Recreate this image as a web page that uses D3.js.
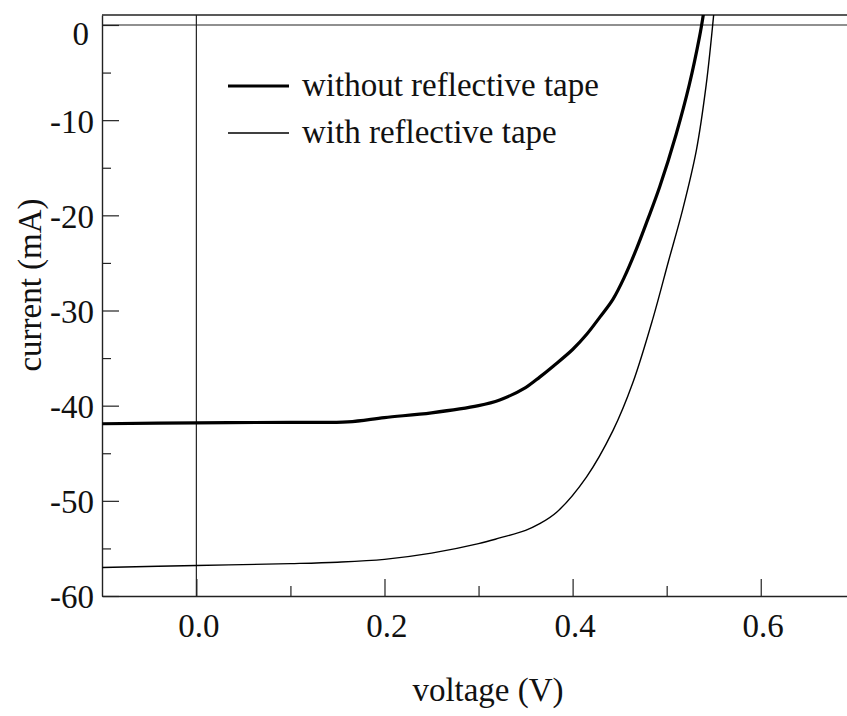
<!DOCTYPE html>
<html><head><meta charset="utf-8">
<script src="https://cdn.jsdelivr.net/npm/d3@7"></script>
<style>
body{margin:0;background:#fff}
text{font-family:"Liberation Serif","Times New Roman",serif;fill:#111}
</style>
</head><body>
<svg id="chart" width="847" height="716"></svg>
<script>
// ---- data ----
const voltageWithout = [-0.1, 0.0, 0.1, 0.161, 0.2, 0.25, 0.3, 0.3225, 0.35, 0.365, 0.38, 0.4, 0.415, 0.429, 0.443, 0.455, 0.468, 0.48, 0.4926, 0.51, 0.524, 0.535, 0.539];
const currentWithout = [-41.9, -41.8, -41.75, -41.7, -41.25, -40.75, -40.0, -39.4, -38.1, -37.0, -35.8, -34.1, -32.5, -30.7, -28.8, -26.5, -23.5, -20.4, -17.0, -11.5, -6.3, -1.2, 1.1];
const voltageWith = [-0.1, 0.0, 0.1, 0.15, 0.2, 0.25, 0.3, 0.3225, 0.35, 0.365, 0.383, 0.4147, 0.443, 0.464, 0.4855, 0.502, 0.517, 0.5315, 0.542, 0.55];
const currentWith = [-57.0, -56.8, -56.6, -56.45, -56.15, -55.5, -54.5, -53.9, -53.1, -52.4, -51.2, -47.5, -42.6, -37.6, -30.8, -24.8, -19.4, -13.2, -6.3, 1.1];
const seriesNames = ["without reflective tape", "with reflective tape"];
const xTickValues = [0.0, 0.2, 0.4, 0.6];
const xMinorTicks = [0.1, 0.3, 0.5];
const yTickValues = [0, -10, -20, -30, -40, -50, -60];
const yMinorTicks = [-5, -15, -25, -35, -45, -55];
const xTitle = "voltage (V)";
const yTitle = "current (mA)";

// ---- layout ----
const W = 847, H = 716;
const L = 102, R = 847, T = 15, B = 596;
const svg = d3.select("#chart");

const x = d3.scaleLinear().domain([-0.1, 0.7]).range([102.3, 854.8]);
const y = d3.scaleLinear().domain([-60, 1.05]).range([B, T]);

svg.append("defs").append("clipPath").attr("id", "plotclip")
  .append("rect").attr("x", L).attr("y", T).attr("width", R - L).attr("height", B - T);

const axisColor = "#222";

// frame lines: top, zero line, vertical at V=0
svg.append("line").attr("x1", L).attr("x2", R).attr("y1", T).attr("y2", T)
  .attr("stroke", axisColor).attr("stroke-width", 1.4);
svg.append("line").attr("x1", L).attr("x2", R).attr("y1", y(0)).attr("y2", y(0))
  .attr("stroke", axisColor).attr("stroke-width", 1.2);
svg.append("line").attr("x1", x(0)).attr("x2", x(0)).attr("y1", T).attr("y2", B)
  .attr("stroke", axisColor).attr("stroke-width", 1.2);

// y axis
const gy = svg.append("g").attr("transform", `translate(${L},0)`)
  .call(d3.axisLeft(y).tickValues(yTickValues).tickFormat(d3.format("d"))
    .tickSizeInner(-17).tickSizeOuter(0).tickPadding(8));
gy.select(".domain").attr("stroke", axisColor).attr("stroke-width", 1.4);
gy.selectAll(".tick line").attr("stroke", axisColor).attr("stroke-width", 1.2);
gy.selectAll(".tick text").attr("font-size", 33).attr("font-family", "Liberation Serif")
  .attr("fill", "#111").attr("dy", "0.36em")
  .text(d => d === 0 ? "0" : "-" + Math.abs(d));
gy.selectAll(".tick text").filter(d => d === 0).attr("dy", "0.6em").attr("x", -13);

const gym = svg.append("g").attr("transform", `translate(${L},0)`)
  .call(d3.axisLeft(y).tickValues(yMinorTicks).tickFormat("").tickSizeInner(-9).tickSizeOuter(0));
gym.select(".domain").remove();
gym.selectAll(".tick line").attr("stroke", axisColor).attr("stroke-width", 1.2);

// x axis
const gx = svg.append("g").attr("transform", `translate(0,${B})`)
  .call(d3.axisBottom(x).tickValues(xTickValues).tickFormat(d3.format(".1f"))
    .tickSizeInner(-17).tickSizeOuter(0).tickPadding(18));
gx.select(".domain").attr("stroke", axisColor).attr("stroke-width", 1.4);
gx.selectAll(".tick line").attr("stroke", axisColor).attr("stroke-width", 1.2);
gx.selectAll(".tick text").attr("font-size", 33).attr("font-family", "Liberation Serif")
  .attr("fill", "#111").attr("x", 2);

const gxm = svg.append("g").attr("transform", `translate(0,${B})`)
  .call(d3.axisBottom(x).tickValues(xMinorTicks).tickFormat("").tickSizeInner(-10).tickSizeOuter(0));
gxm.select(".domain").remove();
gxm.selectAll(".tick line").attr("stroke", axisColor).attr("stroke-width", 1.2);

// titles
svg.append("text").attr("x", 488).attr("y", 701).attr("text-anchor", "middle")
  .attr("font-size", 33).text(xTitle);
svg.append("text").attr("transform", "translate(41,285) rotate(-90)")
  .attr("text-anchor", "middle").attr("font-size", 33).text(yTitle);

// curves
const series = [
  {name: seriesNames[0], v: voltageWithout, c: currentWithout, w: 3.2},
  {name: seriesNames[1], v: voltageWith, c: currentWith, w: 1.4}
];
const line = d3.line().x(d => x(d[0])).y(d => y(d[1])).curve(d3.curveCatmullRom.alpha(0.5));
const gc = svg.append("g").attr("clip-path", "url(#plotclip)");
series.forEach(s => {
  gc.append("path").datum(d3.zip(s.v, s.c)).attr("d", line)
    .attr("fill", "none").attr("stroke", "#000").attr("stroke-width", s.w)
    .attr("stroke-linejoin", "round");
});

// legend
const legY = [86, 133];
series.forEach((s, i) => {
  svg.append("line").attr("x1", 228).attr("x2", 289).attr("y1", legY[i]).attr("y2", legY[i])
    .attr("stroke", "#000").attr("stroke-width", s.w);
  svg.append("text").attr("x", 302).attr("y", legY[i] + 10).attr("font-size", 33).text(s.name);
});
</script>
</body></html>
